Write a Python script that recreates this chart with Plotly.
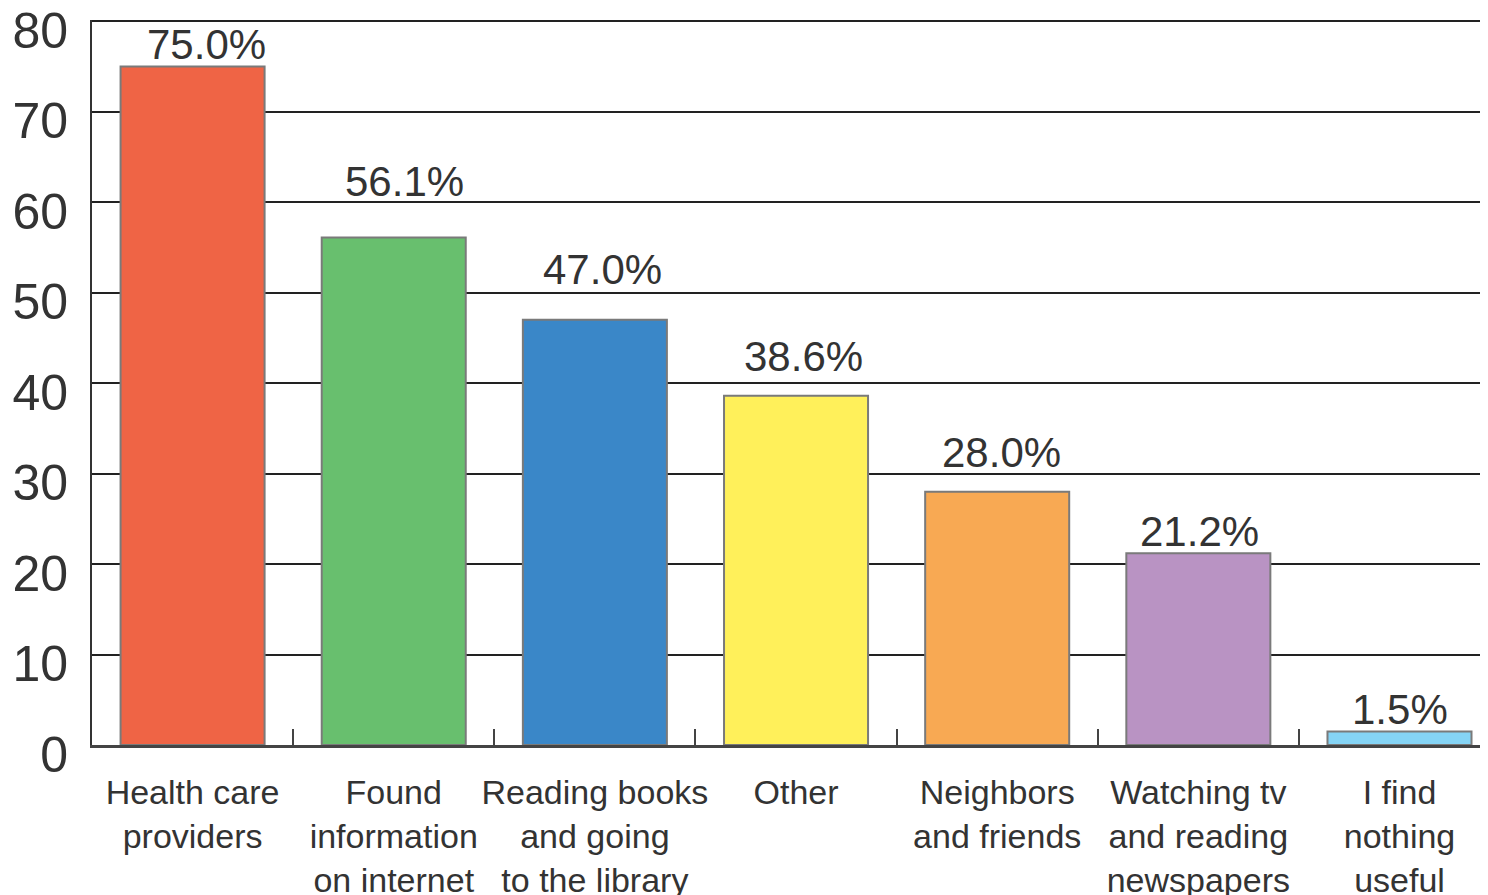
import plotly.graph_objects as go

categories = [
    "Health care<br>providers",
    "Found<br>information<br>on internet",
    "Reading books<br>and going<br>to the library",
    "Other",
    "Neighbors<br>and friends",
    "Watching tv<br>and reading<br>newspapers",
    "I find<br>nothing<br>useful",
]
values = [75.0, 56.1, 47.0, 38.6, 28.0, 21.2, 1.5]
labels = ["75.0%", "56.1%", "47.0%", "38.6%", "28.0%", "21.2%", "1.5%"]
colors = ["#EF6445", "#68BF6E", "#3A87C8", "#FFF05A", "#F8A953", "#B993C3", "#85D4F5"]
y_ticks = [0, 10, 20, 30, 40, 50, 60, 70, 80]

# label placement tweaks (pixels) to mimic the reference's label layout
label_yshift = [22, 56, 50, 39, 39, 22, 22]
label_xshift = [14, 11, 8, 7, 4, 1, 1]

FONT = "Liberation Sans, Arial, sans-serif"

fig = go.Figure(
    go.Bar(
        x=categories,
        y=values,
        width=0.716,
        marker=dict(color=colors, line=dict(color="#7a7a7a", width=2)),
        cliponaxis=False,
    )
)

for cat, val, lab, ys, xs in zip(categories, values, labels, label_yshift, label_xshift):
    fig.add_annotation(
        x=cat, y=val, text=lab, showarrow=False,
        yshift=ys, xshift=xs, yanchor="middle",
        font=dict(size=42, color="#333333", family=FONT),
    )

# page has an 8px body margin, so the figure is sized to fit the window
fig.update_layout(
    width=1480,
    height=887,
    margin=dict(l=84, r=0, t=12, b=150, autoexpand=False),
    paper_bgcolor="white",
    plot_bgcolor="white",
    showlegend=False,
    font=dict(family=FONT, color="#333333"),
)

fig.update_xaxes(
    type="category",
    range=[-0.5, 6.44],
    tickangle=0,
    tickfont=dict(size=34, color="#333333", family=FONT),
    showline=True,
    linecolor="#444444",
    linewidth=3,
    ticks="inside",
    tickson="boundaries",
    ticklen=16,
    tickwidth=2,
    tickcolor="#444444",
    showgrid=False,
    ticklabelstandoff=15,
    ticklabeloverflow="allow",
    automargin=False,
)

fig.update_yaxes(
    range=[0, 80.15],
    tickmode="array",
    tickvals=y_ticks,
    tickfont=dict(size=50, color="#333333", family=FONT),
    showline=True,
    linecolor="#333333",
    linewidth=2,
    showgrid=True,
    gridcolor="#222222",
    gridwidth=2,
    zeroline=False,
    ticks="",
    ticklabelstandoff=12,
    ticklabelshift=9,
    ticklabeloverflow="allow",
    automargin=False,
)

fig.write_html("out.html")
